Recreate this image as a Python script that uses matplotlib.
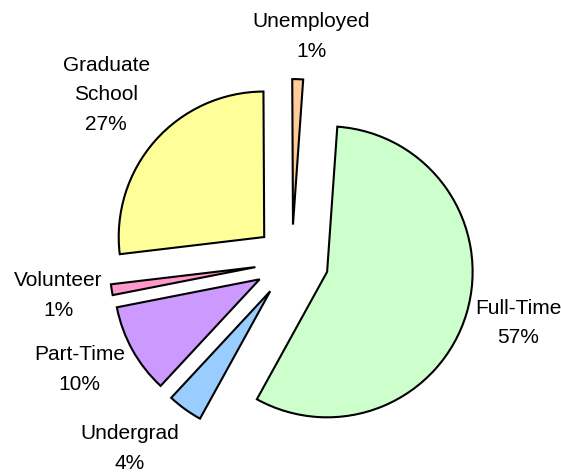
import matplotlib
matplotlib.use("Agg")
import matplotlib.pyplot as plt

categories = ["Unemployed", "Full-Time", "Undergrad", "Part-Time", "Volunteer", "Graduate\nSchool"]
values = [1.2, 56.9, 3.9, 10.0, 1.2, 26.8]
colors = ["#FFCC99", "#CCFFCC", "#99CCFF", "#CC99FF", "#FF99CC", "#FFFF99"]

# label anchor positions (data units, pie radius = 1)
label_pos = [(0.132, 1.545), (1.556, -0.423), (-1.112, -1.285),
             (-1.459, -0.743), (-1.606, -0.233), (-1.276, 1.147)]

plt.rcParams['font.family'] = ['Liberation Sans', 'DejaVu Sans']

fig = plt.figure(figsize=(5.61, 4.72), dpi=100)
ax = fig.add_axes([0, 0, 1, 1])
ax.pie(values, colors=colors, startangle=90.3, counterclock=False,
       explode=[0.253] * len(values), radius=1.0,
       wedgeprops=dict(edgecolor="black", linewidth=1.5))

total = sum(values)
for cat, v, (x, y) in zip(categories, values, label_pos):
    ax.text(x, y, f"{cat}\n{round(v / total * 100):d}%", ha="center", va="center",
            fontsize=15, linespacing=1.7, color="black")

scale = 145.5
cx, cy = 291.8, 261.4
ax.set_aspect("auto")
ax.set_xlim(-cx / scale, (561 - cx) / scale)
ax.set_ylim(-(472 - cy) / scale, cy / scale)
ax.axis("off")
fig.savefig("out.png", dpi=100)
